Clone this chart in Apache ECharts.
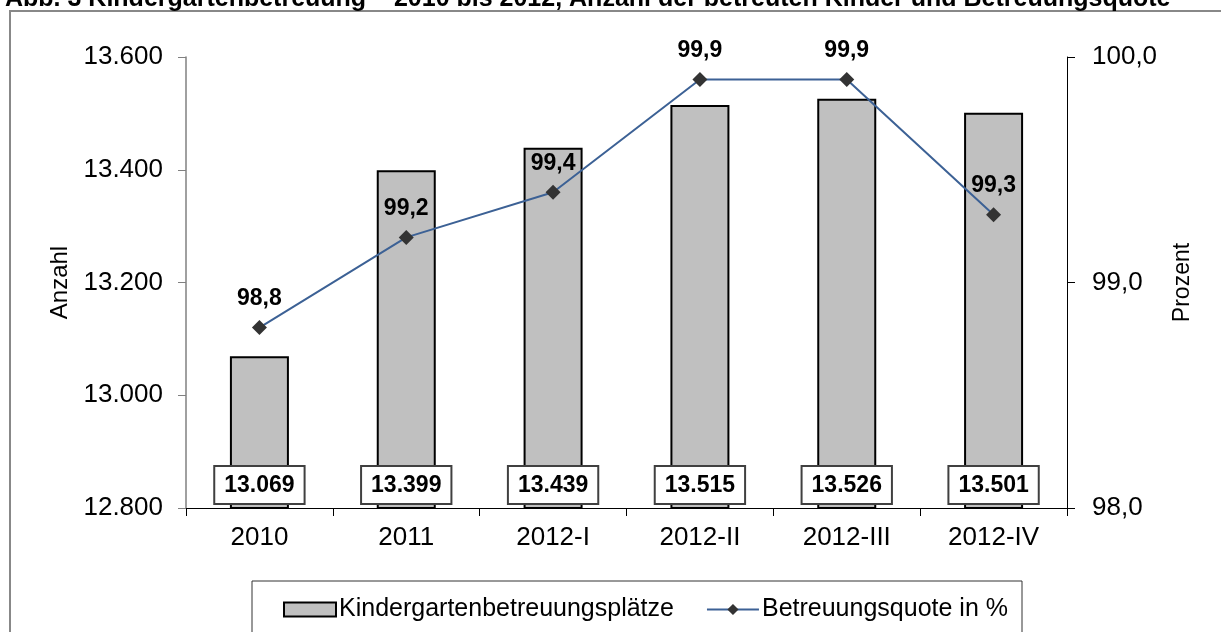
<!DOCTYPE html>
<html>
<head>
<meta charset="utf-8">
<script src="https://cdn.jsdelivr.net/npm/echarts@6/dist/echarts.min.js"></script>
<style>
  html, body { margin: 0; padding: 0; background: #fff; }
  #chart { width: 1221px; height: 632px; }
</style>
</head>
<body>
<div id="chart"></div>
<script>
// Daten
var categories = ["2010", "2011", "2012-I", "2012-II", "2012-III", "2012-IV"];
var plaetze = [13069, 13399, 13439, 13515, 13526, 13501];
var quote = [98.8, 99.2, 99.4, 99.9, 99.9, 99.3];
var leftTicks = [12800, 13000, 13200, 13400, 13600];
var rightTicks = [98, 99, 100];

var font = "Arial, 'Liberation Sans', sans-serif";

function tausender(v) {
  return String(Math.round(v)).replace(/\B(?=(\d{3})+(?!\d))/g, ".");
}
function komma(v) {
  return v.toFixed(1).replace(".", ",");
}

var chart = echarts.init(document.getElementById("chart"));
chart.setOption({
  animation: false,
  backgroundColor: "#fff",
  textStyle: { fontFamily: font, color: "#000" },
  title: {
    text: "Abb. 3 Kindergartenbetreuung – 2010 bis 2012, Anzahl der betreuten Kinder und Betreuungsquote",
    left: 0,
    top: -18,
    textStyle: { fontFamily: font, fontSize: 25, fontWeight: "bold", color: "#000" }
  },
  graphic: [
    {
      type: "rect",
      shape: { x: 10, y: 11, width: 1230, height: 700 },
      style: { fill: "none", stroke: "#888", lineWidth: 2 },
      silent: true
    },
    {
      type: "rect",
      shape: { x: 252, y: 581, width: 770, height: 80 },
      style: { fill: "none", stroke: "#333", lineWidth: 1 },
      silent: true
    }
  ],
  grid: { left: 186, right: 154, top: 57, bottom: 124 },
  legend: {
    left: 278,
    top: 592,
    itemWidth: 52,
    itemHeight: 14,
    itemGap: 32,
    textStyle: { fontFamily: font, fontSize: 25, color: "#000", padding: [0, 0, 0, -2] },
    data: [
      { name: "Kindergartenbetreuungsplätze", icon: "rect" },
      { name: "Betreuungsquote in %" }
    ]
  },
  xAxis: {
    type: "category",
    data: categories,
    axisLine: { lineStyle: { color: "#000", width: 1 } },
    axisTick: { show: true, length: 8, lineStyle: { color: "#000" } },
    axisLabel: { fontSize: 26, color: "#000", margin: 17, fontFamily: font }
  },
  yAxis: [
    {
      type: "value",
      min: leftTicks[0],
      max: leftTicks[leftTicks.length - 1],
      interval: 200,
      name: "Anzahl",
      nameLocation: "middle",
      nameGap: 112,
      nameTextStyle: { fontSize: 24, color: "#000", fontFamily: font },
      axisLine: { show: true, lineStyle: { color: "#808080", width: 1.5 } },
      axisTick: { show: true, length: 8, lineStyle: { color: "#808080" } },
      axisLabel: { fontSize: 26, color: "#000", margin: 23, fontFamily: font, formatter: tausender },
      splitLine: { show: false }
    },
    {
      type: "value",
      min: rightTicks[0],
      max: rightTicks[rightTicks.length - 1],
      interval: 1,
      name: "Prozent",
      nameLocation: "middle",
      nameGap: 104,
      nameTextStyle: { fontSize: 23, color: "#000", fontFamily: font },
      axisLine: { show: true, lineStyle: { color: "#000", width: 1 } },
      axisTick: { show: true, length: 8, lineStyle: { color: "#000" } },
      axisLabel: { fontSize: 26, color: "#000", margin: 25, fontFamily: font, formatter: komma },
      splitLine: { show: false }
    }
  ],
  series: [
    {
      name: "Kindergartenbetreuungsplätze",
      type: "bar",
      data: plaetze,
      barWidth: 59,
      itemStyle: { color: "#c0c0c0", borderColor: "#000", borderWidth: 2 },
      label: {
        show: true,
        position: "insideBottom",
        distance: 6,
        formatter: function (p) { return tausender(p.value); },
        fontFamily: font,
        fontSize: 23,
        fontWeight: "bold",
        color: "#000",
        backgroundColor: "#fff",
        borderColor: "#404040",
        borderWidth: 2,
        padding: [7, 9, 6, 9]
      }
    },
    {
      name: "Betreuungsquote in %",
      type: "line",
      yAxisIndex: 1,
      data: quote,
      symbol: "diamond",
      symbolSize: 15,
      lineStyle: { color: "#3c6195", width: 2 },
      itemStyle: { color: "#333" },
      label: {
        show: true,
        position: "top",
        distance: 10,
        formatter: function (p) { return komma(p.value); },
        fontFamily: font,
        fontSize: 23,
        fontWeight: "bold",
        color: "#000"
      }
    }
  ]
});
</script>
</body>
</html>
